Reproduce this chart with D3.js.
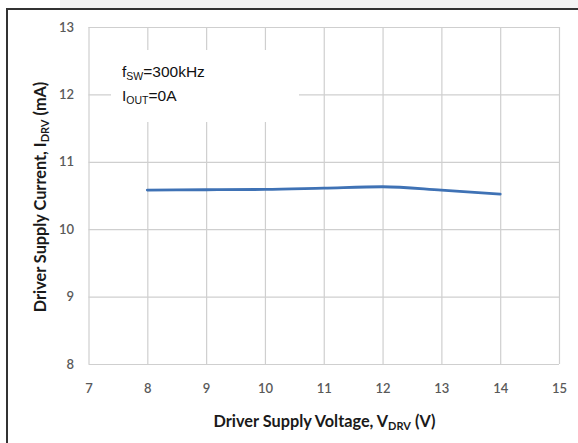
<!DOCTYPE html>
<html>
<head>
<meta charset="utf-8">
<script src="https://cdn.jsdelivr.net/npm/d3@7"></script>
<style>
  html, body { margin: 0; padding: 0; background: #ffffff; }
  svg { display: block; }
</style>
</head>
<body>
<script>
// ---- data ----
const voltage = [8, 9, 10, 11, 12, 13, 14];
const current = [10.58, 10.585, 10.59, 10.61, 10.63, 10.58, 10.52];
const xTicks = [7, 8, 9, 10, 11, 12, 13, 14, 15];
const yTicks = [8, 9, 10, 11, 12, 13];

const W = 578, H = 443;
const svg = d3.select("body").append("svg").attr("width", W).attr("height", H);

// faint background above frame
svg.append("rect").attr("x", 60).attr("y", 0).attr("width", 518).attr("height", 8).attr("fill", "#f3f3f3");
// outer white panel + dark frame
svg.append("rect").attr("x", 7).attr("y", 9).attr("width", 580).attr("height", 440)
  .attr("fill", "#ffffff").attr("stroke", "#333333").attr("stroke-width", 2);

const x = d3.scaleLinear().domain([7, 15]).range([88.5, 559]);
const y = d3.scaleLinear().domain([8, 13]).range([364, 27]);

const tickFont = "Lato, 'Open Sans', sans-serif";

// grid
const gx = svg.append("g").attr("transform", `translate(0,${y(8)})`)
  .call(d3.axisBottom(x).tickValues(xTicks).tickSize(-(y(8) - y(13))).tickFormat(d3.format("d")).tickPadding(20));
gx.select(".domain").remove();
gx.selectAll(".tick line").attr("stroke", "#cfcfcf").attr("stroke-width", 1.2);
gx.selectAll(".tick text").attr("fill", "#595959").attr("font-size", 13).attr("font-family", tickFont).attr("font-weight", 600);

const gy = svg.append("g").attr("transform", `translate(${x(7)},0)`)
  .call(d3.axisLeft(y).tickValues(yTicks).tickSize(-(x(15) - x(7))).tickFormat(d3.format("d")).tickPadding(14.5));
gy.select(".domain").remove();
gy.selectAll(".tick line").attr("stroke", "#cfcfcf").attr("stroke-width", 1.2);
gy.selectAll(".tick text").attr("fill", "#595959").attr("font-size", 13).attr("font-family", tickFont).attr("font-weight", 600);

// annotation box (white, covering grid)
svg.append("rect").attr("x", 111).attr("y", 50).attr("width", 188).attr("height", 72).attr("fill", "#ffffff");

const ann = svg.append("g").attr("font-family", "'Liberation Sans', Arial, sans-serif").attr("fill", "#111");
const t1 = ann.append("text").attr("x", 122).attr("y", 77).attr("font-size", 15.5);
t1.append("tspan").text("f");
t1.append("tspan").attr("font-size", 10.5).attr("dy", 3).text("SW");
t1.append("tspan").attr("dy", -3).text("=300kHz");
const t2 = ann.append("text").attr("x", 122).attr("y", 101).attr("font-size", 15.5);
t2.append("tspan").text("I");
t2.append("tspan").attr("font-size", 10.5).attr("dy", 3).text("OUT");
t2.append("tspan").attr("dy", -3).text("=0A");

// data line
const pts = voltage.map((v, i) => [v, current[i]]);
svg.append("path").datum(pts)
  .attr("fill", "none").attr("stroke", "#3f72b5").attr("stroke-width", 2.8)
  .attr("stroke-linecap", "round")
  .attr("d", d3.line().x(d => x(d[0])).y(d => y(d[1])).curve(d3.curveMonotoneX));

// axis titles
const titleFont = "Lato, 'Open Sans', sans-serif";
const xt = svg.append("text").attr("x", 324.5).attr("y", 427).attr("text-anchor", "middle")
  .attr("font-family", titleFont).attr("font-weight", 700).attr("font-size", 16.3).attr("fill", "#1a1a1a");
xt.append("tspan").text("Driver Supply Voltage, V");
xt.append("tspan").attr("font-size", 11).attr("dy", 2.5).text("DRV");
xt.append("tspan").attr("dy", -2.5).text(" (V)");

const yt = svg.append("text").attr("transform", "translate(46,197) rotate(-90)").attr("text-anchor", "middle")
  .attr("font-family", titleFont).attr("font-weight", 700).attr("font-size", 16.3).attr("fill", "#1a1a1a");
yt.append("tspan").text("Driver Supply Current, I");
yt.append("tspan").attr("font-size", 11).attr("dy", 2.5).text("DRV");
yt.append("tspan").attr("dy", -2.5).text(" (mA)");
</script>
</body>
</html>
